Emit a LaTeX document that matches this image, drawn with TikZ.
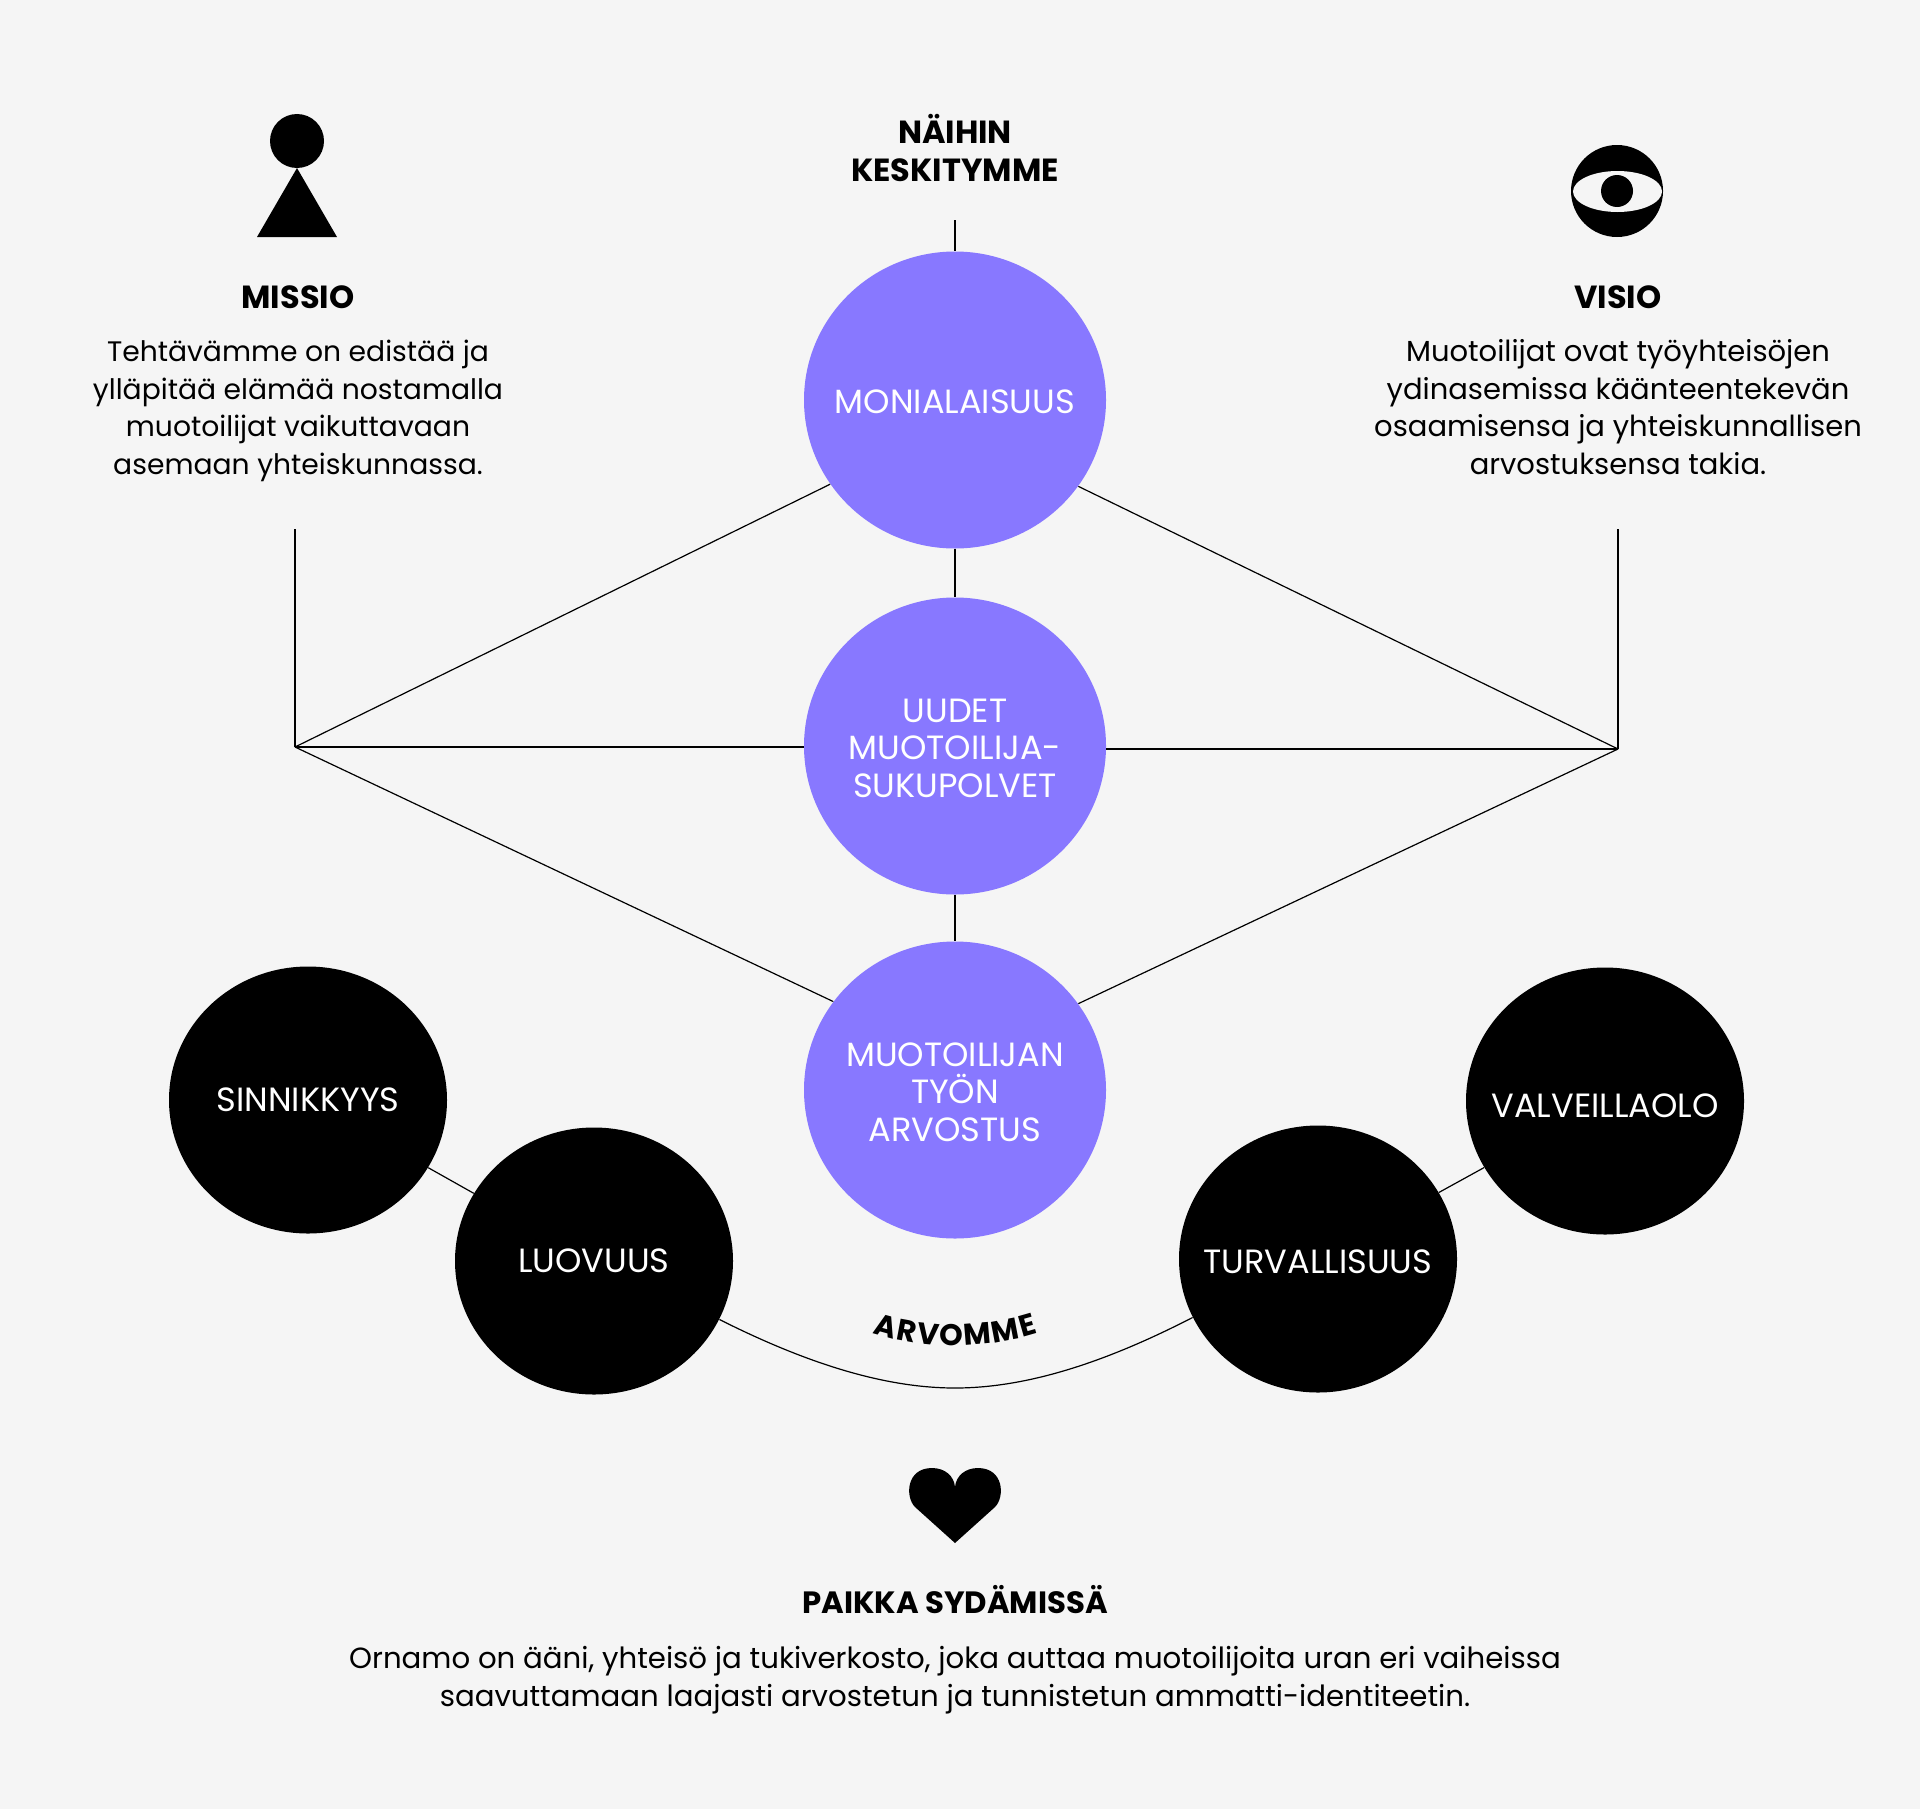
\documentclass[tikz,border=0pt]{standalone}
\usepackage{fontspec}
\setmainfont{Poppins}
\usetikzlibrary{shapes.geometric,decorations.text}
\definecolor{paper}{HTML}{F5F5F5}
\definecolor{violet}{HTML}{8878FF}
\tikzset{
  focus/.style={ellipse,fill=violet,text=white,inner xsep=-60pt,inner ysep=-30pt,minimum width=151pt,minimum height=148.5pt,align=center,font=\fontsize{16.8}{18.8}\selectfont},
  value/.style={ellipse,fill=black,text=white,inner xsep=-60pt,inner ysep=-30pt,minimum width=139pt,minimum height=133.5pt,align=center,font=\fontsize{16.8}{18.8}\selectfont},
  head/.style={inner sep=0pt,align=center,font=\fontsize{16}{18.8}\selectfont\bfseries},
  body/.style={inner sep=0pt,align=center,font=\fontsize{14.5}{18.8}\selectfont},
  wire/.style={draw=black,line width=0.6pt}
}
\newcommand{\alemmas}[1]{\rule{0pt}{#1}}

\begin{document}
\begin{tikzpicture}[x=0.5pt,y=-0.5pt]
    \fill[paper] (0,0) rectangle (1920,1809);
    \useasboundingbox (0,0) rectangle (1920,1809);

    % purple column
    \node [focus] (monialaisuus) at (955,400) {\alemmas{14.1pt}MONIALAISUUS};
    \node [focus] (uudet) at (955,746) {\alemmas{14.1pt}UUDET\\MUOTOILIJA-\\SUKUPOLVET};
    \node [focus] (arvostus) at (955,1090) {\alemmas{14.1pt}MUOTOILIJAN\\TYÖN\\ARVOSTUS};

    % black circles
    \node [value] (sinnikkyys) at (308,1100) {SINNIKKYYS};
    \node [value] (luovuus) at (594,1261) {LUOVUUS};
    \node [value] (turvallisuus) at (1318,1259) {\alemmas{14.1pt}TURVALLISUUS};
    \node [value] (valveillaolo) at (1605,1101) {\alemmas{16.6pt}VALVEILLAOLO};

    % texts
    \node [head] (naihin) at (955,148) {NÄIHIN\\KESKITYMME};
    \node [head] (missio) at (298,297) {MISSIO};
    \node [body,font=\fontsize{14.1}{18.8}\selectfont] (missioteksti) at (298,411) {Tehtävämme on edistää ja\\ylläpitää elämää nostamalla\\muotoilijat vaikuttavaan\\asemaan yhteiskunnassa.};
    \node [head] (visio) at (1618,297) {VISIO};
    \node [body] (visioteksti) at (1618,407) {Muotoilijat ovat työyhteisöjen\\ydinasemissa käänteentekevän\\osaamisensa ja yhteiskunnallisen\\arvostuksensa takia.};
    \node [head,font=\fontsize{15.4}{18.8}\selectfont\bfseries] (paikka) at (955,1600) {PAIKKA SYDÄMISSÄ};
    \node [body,font=\fontsize{14.6}{18.8}\selectfont] (paikkateksti) at (955,1680) {Ornamo on ääni, yhteisö ja tukiverkosto, joka auttaa muotoilijoita uran eri vaiheissa\\saavuttamaan laajasti arvostetun ja tunnistetun ammatti-identiteetin.};

    % line ends
    \coordinate (ylos) at (955,220);
    \coordinate (missiopaa) at (295,529);
    \coordinate (visiopaa) at (1618,529);
    \coordinate (vasen) at (295,747);
    \coordinate (oikea) at (1618,749);

    \draw [wire] (ylos) -- (monialaisuus);
    \draw [wire] (monialaisuus) -- (uudet);
    \draw [wire] (uudet) -- (arvostus);
    \draw [wire] (missiopaa) -- (vasen);
    \draw [wire] (visiopaa) -- (oikea);
    \draw [wire] (vasen) -- (monialaisuus.214);
    \draw [wire] (vasen) -- (vasen -| uudet.west);
    \draw [wire] (vasen) -- (arvostus.144);
    \draw [wire] (oikea) -- (monialaisuus.-35);
    \draw [wire] (oikea) -- (oikea -| uudet.east);
    \draw [wire] (oikea) -- (arvostus.35);
    \draw [wire] (sinnikkyys) -- (luovuus);
    \draw [wire] (turvallisuus) -- (valveillaolo);
    \draw [wire] (luovuus.-25) .. controls (800,1360) and (880,1388) .. (955,1388)
      .. controls (1030,1388) and (1110,1360) .. (turvallisuus.205);

    % curved label
    \path [decorate,decoration={text along path,text align=fit to path,
      text={|\fontsize{15}{18}\selectfont\bfseries|ARVOMME}}]
      (873,1333) .. controls (925,1350) and (985,1350) .. (1038,1333);

    % pawn
    \fill (297,141) circle (27);
    \fill (297,168) -- (337,237) -- (257,237) -- cycle;

    % eye
    \fill (1617,191) circle (46);
    \fill [paper] (1617.5,191.5) ellipse [x radius=44.5,y radius=20.5];
    \fill (1617,191) circle (16);

    % heart
    \fill (955,1543) -- (915,1507) .. controls (905,1497) and (906,1468) .. (932,1468)
      .. controls (945,1468) and (954,1476) .. (955,1487)
      .. controls (956,1476) and (965,1468) .. (978,1468)
      .. controls (1004,1468) and (1005,1497) .. (995,1507) -- cycle;
\end{tikzpicture}
\end{document}
